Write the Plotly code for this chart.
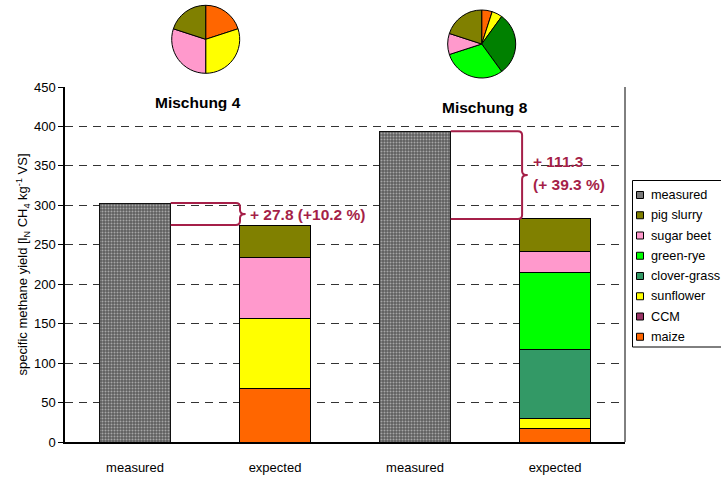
import plotly.graph_objects as go

# ---- data -------------------------------------------------------------
categories = ["measured", "expected", "measured", "expected"]
mixtures = ["Mischung 4", "Mischung 8"]

# measured specific methane yield per mixture
measured = [302.8, 394.0]

# expected yield per substrate (stack order bottom -> top), per mixture
substrates = ["maize", "CCM", "sunflower", "clover-grass", "green-rye", "sugar beet", "pig slurry"]
expected_m4 = [67.6, 0.0, 88.8, 0.0, 0.0, 76.9, 41.7]
expected_m8 = [16.9, 0.0, 13.5, 87.2, 97.4, 26.1, 41.6]

# substrate shares of each mixture (pie charts)
share_m4 = [20, 0, 30, 0, 0, 30, 20]
share_m8 = [5, 0, 5, 30, 30, 10, 20]

# difference labels
diff_abs = [27.8, 111.3]
diff_pct = [10.2, 39.3]

bar_colors = ["#FF6600", "#993366", "#FFFF00", "#339966", "#00FF00", "#FF99CC", "#808000"]
pie_colors = ["#FF6600", "#993366", "#FFFF00", "#008000", "#00FF00", "#FF99CC", "#808000"]
measured_swatch = "#7a7a7a"
accent = "#A51F48"
font_family = "Arial, Liberation Sans, sans-serif"

# plot-area geometry in pixels (used for paper-coordinate helpers)
W, H = 721, 483
M_L, M_R, M_T, M_B = 65, 96, 5, 41
PLOT_W = W - M_L - M_R
PAPER_H = H - M_T - M_B


def px_x(px):
    return (px - M_L) / PLOT_W


def px_y(py):
    return (H - M_B - py) / PAPER_H


BAR_W = 0.51
x_pos = [0, 1, 2, 3]

fig = go.Figure()

# stacked substrate contributions on the "expected" bars
for i, name in enumerate(substrates):
    fig.add_trace(go.Bar(
        x=[x_pos[1], x_pos[3]],
        y=[expected_m4[i], expected_m8[i]],
        name=name,
        width=BAR_W,
        showlegend=False,
        marker=dict(color=bar_colors[i], line=dict(color="#000000", width=1)),
    ))

# measured bars with a fine checker fill
fig.add_trace(go.Bar(
    x=[x_pos[0], x_pos[2]],
    y=measured,
    name="measured",
    width=BAR_W,
    showlegend=False,
    marker=dict(
        color="#777777",
        line=dict(color="#111111", width=1),
        pattern=dict(shape=".", size=3, solidity=0.35, fgcolor="#eeeeee", bgcolor="#5e5e5e"),
    ),
))

# pies showing the substrate composition of each mixture
pie_geom = [(205.7, 39.3, 34), (481.7, 44.0, 34)]
for shares, (cx, cy, r) in zip([share_m4, share_m8], pie_geom):
    labels = [s for s, v in zip(substrates, shares) if v > 0]
    vals = [v for v in shares if v > 0]
    cols = [c for c, v in zip(pie_colors, shares) if v > 0]
    dom = dict(x=[px_x(cx - r), px_x(cx + r)], y=[px_y(cy + r), min(1.0, px_y(cy - r))])
    fig.add_trace(go.Pie(
        labels=labels, values=vals, sort=False, direction="clockwise", rotation=0,
        marker=dict(colors=cols, line=dict(color="#000000", width=1)),
        textinfo="none", showlegend=False, domain=dom, hoverinfo="label+percent",
    ))

# curly braces between measured and expected totals
expected_tot = [sum(expected_m4), sum(expected_m8)]
shapes = []
annotations = []
rx, ry, tip = 0.03, 5.0, 0.04
label_font = dict(family=font_family, size=15.5, color=accent, weight="bold")
for k in range(2):
    xm = x_pos[2 * k]
    xa = xm + BAR_W / 2
    xb = xm + 1 - BAR_W / 2 + (0.005 if k == 0 else 0.02)
    ytop, ybot = measured[k], expected_tot[k]
    ymid = (ytop + ybot) / 2
    path = (
        f"M {xa},{ytop} L {xb - rx},{ytop} Q {xb},{ytop} {xb},{ytop - ry} "
        f"L {xb},{ymid + ry} Q {xb},{ymid} {xb + tip},{ymid} "
        f"Q {xb},{ymid} {xb},{ymid - ry} L {xb},{ybot + ry} "
        f"Q {xb},{ybot} {xb - rx},{ybot} L {xa},{ybot}"
    )
    shapes.append(dict(type="path", path=path, xref="x", yref="y",
                       line=dict(color=accent, width=2)))
    if k == 0:
        annotations.append(dict(
            x=xb + tip + 0.02, y=ymid, xref="x", yref="y", xanchor="left", yanchor="middle",
            text=f"+ {diff_abs[k]} (+{diff_pct[k]} %)", showarrow=False, font=label_font,
        ))
    else:
        annotations.append(dict(
            x=xb + tip + 0.02, y=ymid, xref="x", yref="y", xanchor="left", yanchor="middle",
            yshift=14, text=f"+ {diff_abs[k]}", showarrow=False, font=label_font,
        ))
        annotations.append(dict(
            x=xb + tip + 0.02, y=ymid, xref="x", yref="y", xanchor="left", yanchor="middle",
            yshift=-9, text=f"(+ {diff_pct[k]} %)", showarrow=False, font=label_font,
        ))

# mixture titles
for name, xc, yc in [(mixtures[0], 0.45, 430), (mixtures[1], 2.5, 424)]:
    annotations.append(dict(
        x=xc, y=yc, xref="x", yref="y", text=name, showarrow=False,
        font=dict(family=font_family, size=15.5, color="#000000", weight="bold"),
    ))

# right frame line of the plot area
shapes.append(dict(type="line", xref="paper", yref="y", x0=1, x1=1, y0=0, y1=450,
                   line=dict(color="#000000", width=1)))

# legend box (top -> bottom: measured, then substrates from top of stack down)
legend_names = ["measured"] + substrates[::-1]
legend_colors = [measured_swatch] + bar_colors[::-1]
LEG_L, LEG_T, LEG_B, LEG_R = 632.5, 180.5, 347, 740
ROW0, ROW_STEP = 195, 20.25
shapes.append(dict(type="rect", xref="paper", yref="paper",
                   x0=px_x(LEG_L), x1=px_x(LEG_R), y0=px_y(LEG_B), y1=px_y(LEG_T),
                   line=dict(color="#000000", width=1), fillcolor="#ffffff", layer="above"))
for i, (name, col) in enumerate(zip(legend_names, legend_colors)):
    cy = ROW0 + i * ROW_STEP
    shapes.append(dict(type="rect", xref="paper", yref="paper",
                       x0=px_x(636.5), x1=px_x(643.5), y0=px_y(cy + 3.5), y1=px_y(cy - 3.5),
                       line=dict(color="#000000", width=1), fillcolor=col, layer="above"))
    annotations.append(dict(
        x=px_x(649), y=px_y(cy), xref="paper", yref="paper", xanchor="left", yanchor="middle",
        text=name, showarrow=False, font=dict(family=font_family, size=12.7, color="#000000"),
    ))

fig.update_layout(
    barmode="stack",
    width=W, height=H,
    margin=dict(l=M_L, r=M_R, t=M_T, b=M_B, autoexpand=False),
    paper_bgcolor="#ffffff", plot_bgcolor="#ffffff",
    font=dict(family=font_family, size=13, color="#000000"),
    shapes=shapes,
    annotations=annotations,
    showlegend=False,
    xaxis=dict(
        range=[-0.5, 3.5], tickvals=x_pos, ticktext=categories,
        showline=True, linecolor="#000000", linewidth=1.5,
        showgrid=False, ticks="outside", ticklen=13, tickcolor="rgba(0,0,0,0)",
        zeroline=False, tickfont=dict(size=13),
    ),
    yaxis=dict(
        domain=[0, px_y(87)], range=[0, 450], tickvals=list(range(0, 451, 50)),
        showline=True, linecolor="#000000", linewidth=1.5,
        ticks="outside", ticklen=5, tickcolor="#000000",
        showgrid=True, gridcolor="#333333", griddash="8px,6px", gridwidth=1,
        zeroline=False, tickfont=dict(size=13),
        title=dict(text="specific methane yield [l<sub>N</sub> CH<sub>4</sub> kg<sup>-1</sup> VS]",
                   font=dict(family=font_family, size=13), standoff=3),
    ),
    hovermode=False,
)

fig.write_html("out.html")
